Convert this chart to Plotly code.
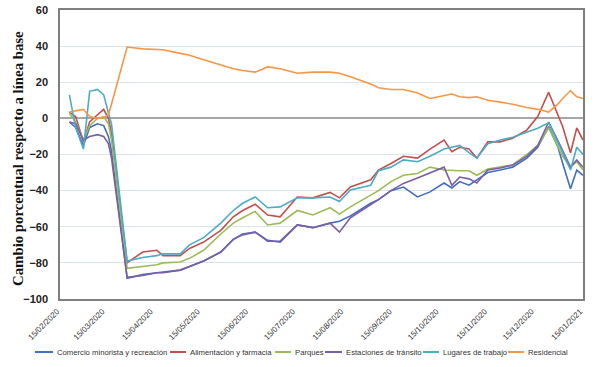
import plotly.graph_objects as go

dates = [
    "2020-02-21", "2020-02-25", "2020-03-01", "2020-03-05", "2020-03-10", "2020-03-14",
    "2020-03-17", "2020-03-19", "2020-03-29", "2020-04-08", "2020-04-17", "2020-04-21",
    "2020-05-02", "2020-05-08", "2020-05-17", "2020-05-28", "2020-06-05", "2020-06-11",
    "2020-06-19", "2020-06-27", "2020-07-05", "2020-07-16", "2020-07-26", "2020-08-06",
    "2020-08-12", "2020-08-19", "2020-09-01", "2020-09-06", "2020-09-14", "2020-09-22",
    "2020-10-01", "2020-10-09", "2020-10-18", "2020-10-23", "2020-10-28", "2020-11-03",
    "2020-11-08", "2020-11-15", "2020-11-23", "2020-12-01", "2020-12-10", "2020-12-17",
    "2020-12-24", "2020-12-30", "2021-01-02", "2021-01-07", "2021-01-11", "2021-01-15",
]

comercio = [-2, -5, -15, -5, -3, -4, -10, -18, -88.5, -86.5, -85.5, -85,
            -84, -82, -79, -74, -67, -64, -63, -67.5, -68.5, -59, -60.5, -58,
            -57, -54, -47, -45, -40, -38, -43.5, -40.7, -35.8, -38.5, -35, -37,
            -34, -30, -28.6, -27, -22, -16, -4.6, -16, -25, -39, -28.6, -31.5]

alimentacion = [3.5, 1, -13, -2, 2, 5, 0, -8, -80, -74, -73, -76,
                -76, -72, -68.5, -62, -54.5, -51, -47.5, -53.5, -54.5, -43.5, -44, -41,
                -44, -38, -34, -28.6, -25, -21, -22, -17, -12, -18.5, -16, -17,
                -22, -13, -13, -11, -6.5, 1, 14.5, 1, -4.6, -19, -5.3, -12]

parques = [3, -2, -12, -4, 0, 1, -3, -12, -83, -82, -81, -80,
           -79.5, -77.5, -73, -64, -58, -55, -51.5, -59, -58, -51, -53.5, -49.5,
           -53, -49, -42.5, -40, -35, -31.5, -30.5, -27, -28.6, -29, -29, -29,
           -31.5, -28, -27, -25.8, -20, -15, -5.3, -15.8, -21, -27, -24, -28.6]

estaciones = [-2, -3, -12, -10, -9, -10, -14, -22, -88, -87, -85.5, -85.5,
              -84, -82, -79, -74, -67, -64.5, -63, -68, -68, -59, -60.5, -58,
              -63, -55, -48, -45, -40, -36, -33, -30, -27, -37, -32.5, -33.5,
              -35.8, -28.6, -27.5, -25.8, -21, -15, -2, -12.5, -18, -27, -23, -27]

lugares = [13, -5, -17, 15, 16, 13, 3, -3, -79, -77, -76, -75,
           -75, -70, -66, -58, -51, -47, -43.5, -49.5, -49, -44, -44, -43.5,
           -46, -39.6, -37, -29, -27, -23, -24, -21, -17, -16, -15, -19,
           -22, -14, -12, -10.5, -7.5, -5.5, -2.5, -13, -19, -28.6, -16, -20]

residencial = [3.5, 4, 5, 1, 0, 0.5, 2, 8, 39.5, 38.5, 38, 38,
               36, 35, 32.5, 29.5, 27.5, 26.5, 25.6, 28.5, 27.5, 25, 25.6, 25.6,
               25, 23, 19, 17, 16, 16, 14, 11, 12.5, 13.5, 12, 11.5,
               12, 10, 9, 7.8, 6, 5, 3.5, 8, 11, 15.4, 12, 11]

series_names = [
    "Comercio minorista y recreación",
    "Alimentación y farmacia",
    "Parques",
    "Estaciones de tránsito",
    "Lugares de trabajo",
    "Residencial",
]
series_values = [comercio, alimentacion, parques, estaciones, lugares, residencial]
series_colors = ["#3f6fbf", "#c0504d", "#9bbb59", "#7b5ea7", "#4bacc6", "#f79646"]

tick_dates = [
    "2020-02-15", "2020-03-15", "2020-04-15", "2020-05-15", "2020-06-15", "2020-07-15",
    "2020-08-15", "2020-09-15", "2020-10-15", "2020-11-15", "2020-12-15", "2021-01-15",
]
tick_labels = [
    "15/02/2020", "15/03/2020", "15/04/2020", "15/05/2020", "15/06/2020", "15/07/2020",
    "15/08/2020", "15/09/2020", "15/10/2020", "15/11/2020", "15/12/2020", "15/01/2021",
]

# layout geometry (pixels)
W, H = 600, 367
ML, MR, MT, MB = 60, 17, 10, 68
PW = W - ML - MR
PH = H - MT - MB

def px_x(p):
    return (p - ML) / PW

def px_y(p):
    return (H - MB - p) / PH

fig = go.Figure()
for name, vals, col in zip(series_names, series_values, series_colors):
    fig.add_trace(go.Scatter(x=dates, y=vals, mode="lines", name=name,
                             line=dict(color=col, width=1.6), showlegend=False))

# hand-placed legend row (line sample + label), matching the reference spacing
legend_line_px = [(35, 53), (170, 186), (275, 291), (325, 342), (423, 439), (508, 524)]
legend_text_px = [55, 188, 293, 344, 441, 526]
legend_y_px = 352

shapes = []
annotations = []
for (x0, x1), tx, name, col in zip(legend_line_px, legend_text_px, series_names, series_colors):
    shapes.append(dict(type="line", xref="paper", yref="paper",
                       x0=px_x(x0), x1=px_x(x1), y0=px_y(legend_y_px), y1=px_y(legend_y_px),
                       line=dict(color=col, width=2)))
    annotations.append(dict(text=name, xref="paper", yref="paper",
                            x=px_x(tx), y=px_y(legend_y_px), xanchor="left", yanchor="middle",
                            showarrow=False, font=dict(size=7.7, color="#333")))

annotations.append(dict(
    text="Cambio porcentual respecto a línea base", textangle=-90,
    xref="paper", yref="paper", x=px_x(18), y=px_y(159), xanchor="center", yanchor="middle",
    showarrow=False,
    font=dict(family="Liberation Serif, Times New Roman, serif", size=14.8,
              color="#111", weight="bold"),
))

fig.update_layout(
    width=W, height=H,
    margin=dict(l=ML, r=MR, t=MT, b=MB, autoexpand=False),
    paper_bgcolor="white", plot_bgcolor="white",
    font=dict(family="Liberation Sans, Arial, sans-serif", color="#222"),
    showlegend=False,
    xaxis=dict(
        type="date", range=["2020-02-15", "2021-01-15"],
        tickmode="array", tickvals=tick_dates, ticktext=tick_labels,
        tickangle=-45, tickfont=dict(size=8, color="#333"),
        showgrid=False, showline=True, linecolor="#7f7f7f", linewidth=1.5, mirror=True,
        ticks="", zeroline=False, ticklabelstandoff=3, ticklabelshift=-3,
    ),
    yaxis=dict(
        range=[-100, 60], dtick=20, tick0=0,
        tickfont=dict(size=11, color="#222", weight="bold"),
        showgrid=True, gridcolor="#dbe4ee", gridwidth=1,
        zeroline=True, zerolinecolor="#a6a6a6", zerolinewidth=1.5,
        showline=True, linecolor="#7f7f7f", linewidth=1.5, mirror=True,
        ticks="", ticklabelstandoff=8,
    ),
    shapes=shapes,
    annotations=annotations,
)

fig.write_html("out.html",
               config={"displayModeBar": False},
               post_script="document.body.style.margin='0px';document.body.style.overflow='hidden';")
